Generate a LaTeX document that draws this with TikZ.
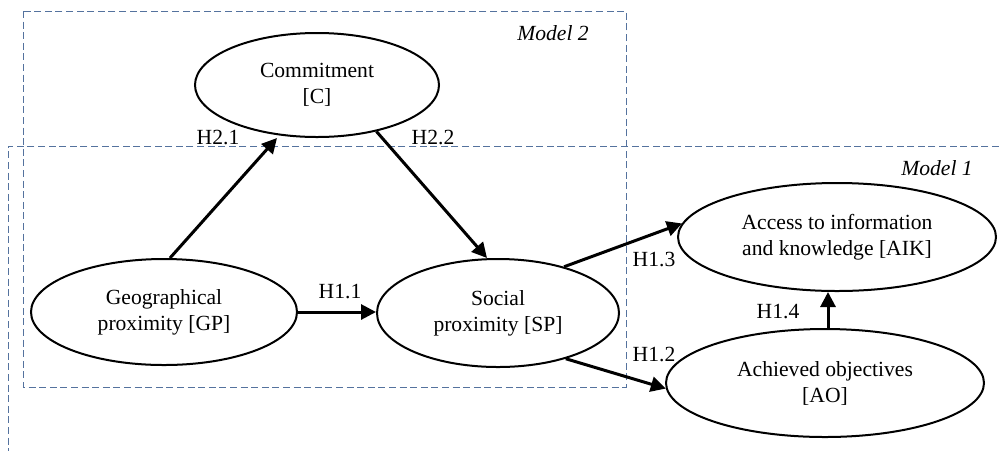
\documentclass[tikz,border=0pt]{standalone}
\usepackage{fontspec}
\setmainfont{Liberation Serif}
\usetikzlibrary{shapes.geometric,arrows.meta}
\definecolor{boxblue}{RGB}{84,114,158}
\begin{document}
\begin{tikzpicture}[x=0.5pt,y=-0.5pt,
  font=\fontsize{10.8}{13}\selectfont,
  construct/.style={ellipse,draw,line width=1pt,inner sep=0pt,align=center},
  path/.style={line width=1.5pt,-{Triangle[length=7.5pt,width=7.5pt]}},
  modelbox/.style={draw=boxblue,line width=0.5pt,dash pattern=on 3.5pt off 1.8pt},
  lbl/.style={inner sep=0pt}]
\useasboundingbox (0,0) rectangle (999,451);
% model boxes
\draw[modelbox] (999,146) -- (8,146) -- (8,451);
\draw[modelbox] (23,11) rectangle (626,387);
\node[lbl,font=\fontsize{10.8}{13}\selectfont\itshape] (m2) at (553,33) {Model 2};
\node[lbl,font=\fontsize{10.8}{13}\selectfont\itshape] (m1) at (937,168) {Model 1};
% constructs
\node[construct,minimum width=122pt,minimum height=52pt] (C) at (317,85) {Commitment\\{[C]}};
\node[construct,minimum width=133pt,minimum height=53pt] (GP) at (164,312) {Geographical\\proximity [GP]};
\node[construct,minimum width=121pt,minimum height=54pt] (SP) at (498,313) {Social\\proximity [SP]};
\node[construct,minimum width=159pt,minimum height=54pt] (AIK) at (837,237) {Access to information\\and knowledge [AIK]};
\node[construct,minimum width=159pt,minimum height=54pt] (AO) at (825,383) {Achieved objectives\\{[AO]}};
% paths
\draw[path] ([xshift=3pt]GP.north) -- ([xshift=-20pt]C.south);
\draw[path] (C.-38) -- ([xshift=-5.5pt]SP.north);
\draw[path] (GP.east) -- (GP.east -| SP.west);
\draw[path] (SP.35) -- (AIK.175);
\draw[path] (SP.-34) -- (AO.182);
\draw[path] ([xshift=1.5pt]AO.north) -- ([xshift=1.5pt]AO.north |- AIK.south);
% labels
\node[lbl] (h21) at (218,137) {H2.1};
\node[lbl] (h22) at (433,137) {H2.2};
\node[lbl] (h11) at (340,292) {H1.1};
\node[lbl] (h13) at (654,259) {H1.3};
\node[lbl] (h14) at (778,312) {H1.4};
\node[lbl] (h12) at (654,354) {H1.2};
\end{tikzpicture}
\end{document}
